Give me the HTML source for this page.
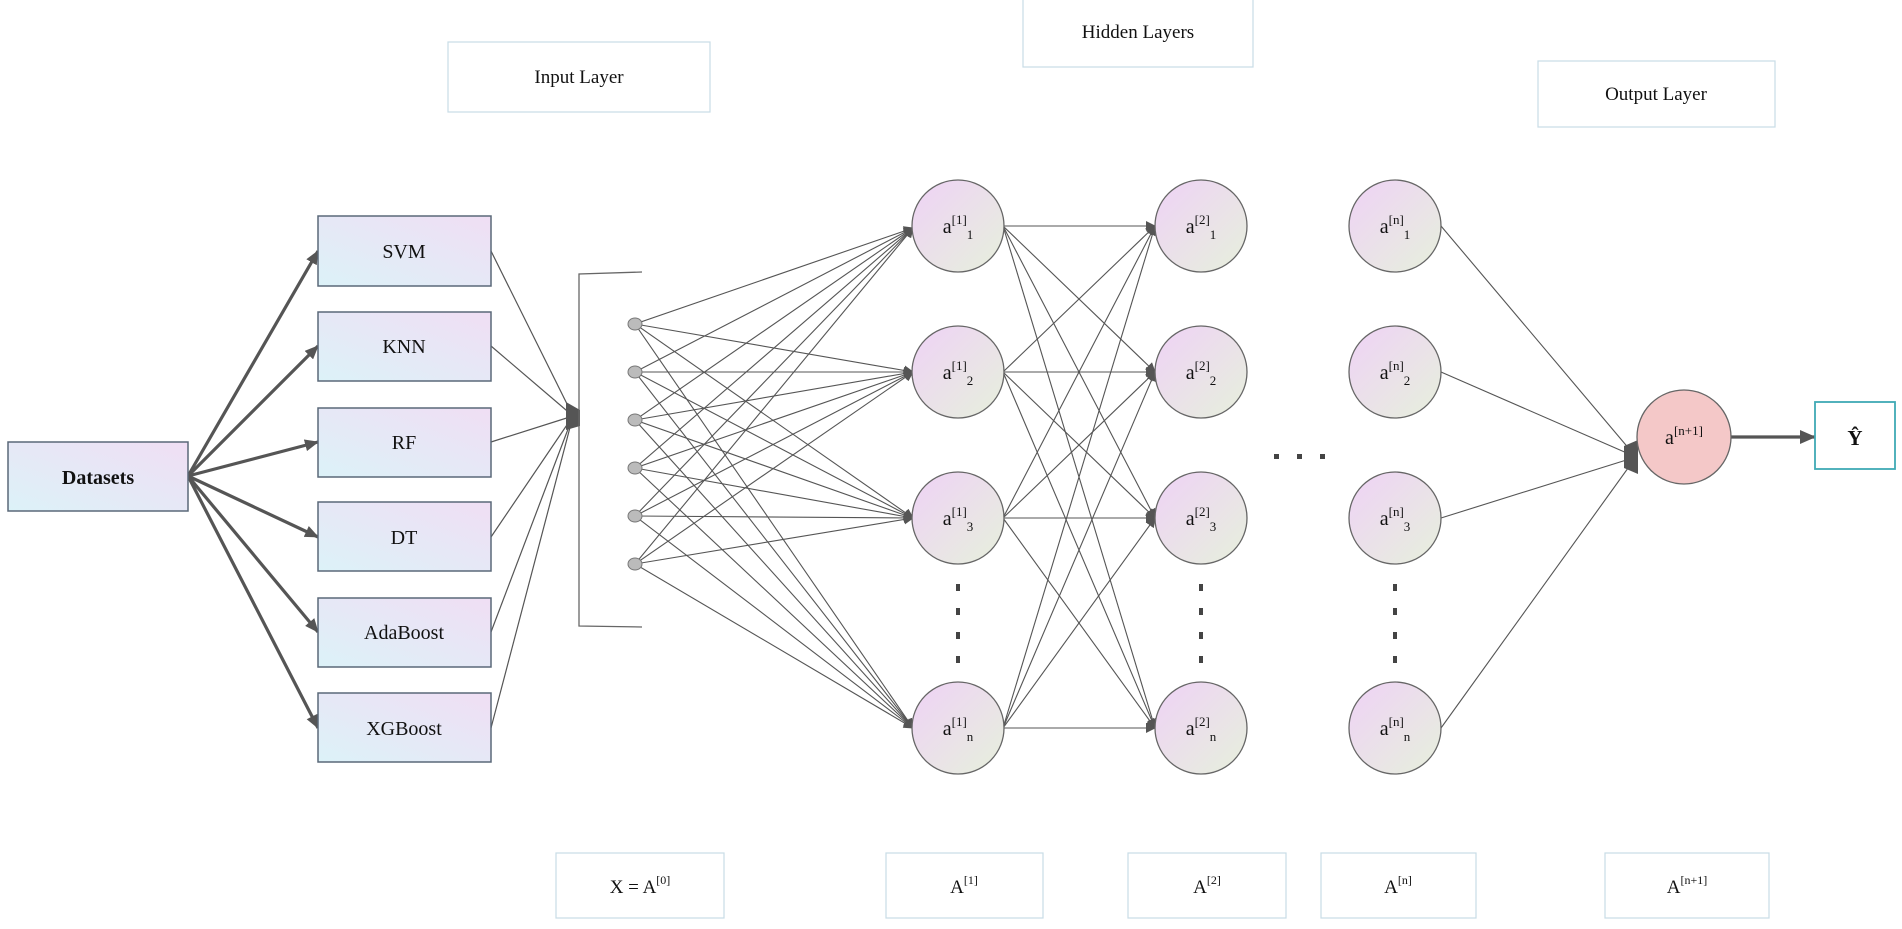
<!DOCTYPE html>
<html><head><meta charset="utf-8"><style>
html,body{margin:0;padding:0;background:#fff;}
svg{display:block;}
text{font-family:"Liberation Serif",serif;fill:#111;}
</style></head><body>
<svg width="1902" height="929" viewBox="0 0 1902 929" xmlns="http://www.w3.org/2000/svg">
<defs>
<linearGradient id="gbox" x1="0" y1="1" x2="1" y2="0">
<stop offset="0" stop-color="#dcf2f8"/><stop offset="1" stop-color="#f0def4"/></linearGradient>
<linearGradient id="gnode" x1="0" y1="0" x2="1" y2="1">
<stop offset="0" stop-color="#efd2f6"/><stop offset="1" stop-color="#e6f0dc"/></linearGradient>
<marker id="ah" markerWidth="10" markerHeight="10" refX="9" refY="5" orient="auto" markerUnits="userSpaceOnUse">
<path d="M0,0 L10,5 L0,10 z" fill="#555"/></marker>
<marker id="ahb" markerWidth="16" markerHeight="14" refX="15" refY="7" orient="auto" markerUnits="userSpaceOnUse">
<path d="M0,0 L16,7 L0,14 z" fill="#555"/></marker>
<marker id="ahs" markerWidth="14" markerHeight="12" refX="13" refY="6" orient="auto" markerUnits="userSpaceOnUse">
<path d="M0,0 L14,6 L0,12 z" fill="#555"/></marker>
</defs>

<!-- header label boxes -->
<g fill="#fff" stroke="#c8dce6" stroke-width="1.2">
<rect x="448" y="42" width="262" height="70"/>
<rect x="1023" y="-2" width="230" height="69"/>
<rect x="1538" y="61" width="237" height="66"/>
<rect x="556" y="853" width="168" height="65"/>
<rect x="886" y="853" width="157" height="65"/>
<rect x="1128" y="853" width="158" height="65"/>
<rect x="1321" y="853" width="155" height="65"/>
<rect x="1605" y="853" width="164" height="65"/>
</g>
<g font-size="19" text-anchor="middle">
<text x="579" y="83">Input Layer</text>
<text x="1138" y="38">Hidden Layers</text>
<text x="1656" y="100">Output Layer</text>
<text x="640" y="893">X = A<tspan font-size="12" dy="-9">[0]</tspan></text>
<text x="964" y="893">A<tspan font-size="12" dy="-9">[1]</tspan></text>
<text x="1207" y="893">A<tspan font-size="12" dy="-9">[2]</tspan></text>
<text x="1398" y="893">A<tspan font-size="12" dy="-9">[n]</tspan></text>
<text x="1687" y="893">A<tspan font-size="12" dy="-9">[n+1]</tspan></text>
</g>

<!-- datasets to models -->
<g stroke="#555" stroke-width="3.2" fill="none" marker-end="url(#ahs)">
<line x1="188" y1="476" x2="318" y2="251"/>
<line x1="188" y1="476" x2="318" y2="346"/>
<line x1="188" y1="476" x2="318" y2="442"/>
<line x1="188" y1="476" x2="318" y2="537"/>
<line x1="188" y1="476" x2="318" y2="632"/>
<line x1="188" y1="476" x2="318" y2="728"/>
</g>
<!-- models to convergence -->
<g stroke="#555" stroke-width="1.2" fill="none">
<line x1="491" y1="251" x2="573" y2="416"/>
<line x1="491" y1="346" x2="573" y2="416"/>
<line x1="491" y1="442" x2="573" y2="416"/>
<line x1="491" y1="537" x2="573" y2="416"/>
<line x1="491" y1="632" x2="573" y2="416"/>
<line x1="491" y1="728" x2="573" y2="416"/>
</g>
<path d="M566,402 L580,410 L580,426 L566,430 z" fill="#555"/>

<rect x="8" y="442" width="180" height="69" fill="url(#gbox)" stroke="#5a6878" stroke-width="1.5"/>
<text x="98" y="484" font-size="20" font-weight="bold" text-anchor="middle">Datasets</text>
<g stroke="#5a6878" stroke-width="1.5" fill="url(#gbox)">
<rect x="318" y="216" width="173" height="70"/>
<rect x="318" y="312" width="173" height="69"/>
<rect x="318" y="408" width="173" height="69"/>
<rect x="318" y="502" width="173" height="69"/>
<rect x="318" y="598" width="173" height="69"/>
<rect x="318" y="693" width="173" height="69"/>
</g>
<g font-size="20" text-anchor="middle">
<text x="404" y="258">SVM</text>
<text x="404" y="353">KNN</text>
<text x="404" y="449">RF</text>
<text x="404" y="544">DT</text>
<text x="404" y="639">AdaBoost</text>
<text x="404" y="735">XGBoost</text>
</g>

<!-- bracket -->
<path d="M642,272 L579,274 L579,626 L642,627" fill="none" stroke="#666" stroke-width="1.3"/>

<!-- dots to layer1 -->
<g stroke="#555" stroke-width="1.1" marker-end="url(#ah)">
<line x1="635" y1="324" x2="913" y2="228"/><line x1="635" y1="324" x2="913" y2="372"/><line x1="635" y1="324" x2="913" y2="518"/><line x1="635" y1="324" x2="913" y2="728"/>
<line x1="635" y1="372" x2="913" y2="228"/><line x1="635" y1="372" x2="913" y2="372"/><line x1="635" y1="372" x2="913" y2="518"/><line x1="635" y1="372" x2="913" y2="728"/>
<line x1="635" y1="420" x2="913" y2="228"/><line x1="635" y1="420" x2="913" y2="372"/><line x1="635" y1="420" x2="913" y2="518"/><line x1="635" y1="420" x2="913" y2="728"/>
<line x1="635" y1="468" x2="913" y2="228"/><line x1="635" y1="468" x2="913" y2="372"/><line x1="635" y1="468" x2="913" y2="518"/><line x1="635" y1="468" x2="913" y2="728"/>
<line x1="635" y1="516" x2="913" y2="228"/><line x1="635" y1="516" x2="913" y2="372"/><line x1="635" y1="516" x2="913" y2="518"/><line x1="635" y1="516" x2="913" y2="728"/>
<line x1="635" y1="564" x2="913" y2="228"/><line x1="635" y1="564" x2="913" y2="372"/><line x1="635" y1="564" x2="913" y2="518"/><line x1="635" y1="564" x2="913" y2="728"/>
</g>
<g fill="#bbb" stroke="#777" stroke-width="1">
<ellipse cx="635" cy="324" rx="7" ry="6"/><ellipse cx="635" cy="372" rx="7" ry="6"/><ellipse cx="635" cy="420" rx="7" ry="6"/>
<ellipse cx="635" cy="468" rx="7" ry="6"/><ellipse cx="635" cy="516" rx="7" ry="6"/><ellipse cx="635" cy="564" rx="7" ry="6"/>
</g>

<!-- layer1 to layer2 -->
<g stroke="#555" stroke-width="1.1" marker-end="url(#ah)">
<line x1="1003" y1="226" x2="1155" y2="226"/><line x1="1003" y1="226" x2="1155" y2="372"/><line x1="1003" y1="226" x2="1155" y2="518"/><line x1="1003" y1="226" x2="1155" y2="728"/>
<line x1="1003" y1="372" x2="1155" y2="226"/><line x1="1003" y1="372" x2="1155" y2="372"/><line x1="1003" y1="372" x2="1155" y2="518"/><line x1="1003" y1="372" x2="1155" y2="728"/>
<line x1="1003" y1="518" x2="1155" y2="226"/><line x1="1003" y1="518" x2="1155" y2="372"/><line x1="1003" y1="518" x2="1155" y2="518"/><line x1="1003" y1="518" x2="1155" y2="728"/>
<line x1="1003" y1="728" x2="1155" y2="226"/><line x1="1003" y1="728" x2="1155" y2="372"/><line x1="1003" y1="728" x2="1155" y2="518"/><line x1="1003" y1="728" x2="1155" y2="728"/>
</g>
<!-- layer n to output -->
<g stroke="#555" stroke-width="1.1">
<line x1="1441" y1="226" x2="1636" y2="457"/>
<line x1="1441" y1="372" x2="1636" y2="457"/>
<line x1="1441" y1="518" x2="1636" y2="457"/>
<line x1="1441" y1="728" x2="1636" y2="457"/>
</g>
<path d="M1624,446 L1638,440 L1638,474 L1624,468 z" fill="#555"/>
<line x1="1731" y1="437" x2="1815" y2="437" stroke="#555" stroke-width="3.2" marker-end="url(#ahb)"/>

<!-- nodes -->
<g fill="url(#gnode)" stroke="#666" stroke-width="1.3">
<circle cx="958" cy="226" r="46"/><circle cx="958" cy="372" r="46"/><circle cx="958" cy="518" r="46"/><circle cx="958" cy="728" r="46"/>
<circle cx="1201" cy="226" r="46"/><circle cx="1201" cy="372" r="46"/><circle cx="1201" cy="518" r="46"/><circle cx="1201" cy="728" r="46"/>
<circle cx="1395" cy="226" r="46"/><circle cx="1395" cy="372" r="46"/><circle cx="1395" cy="518" r="46"/><circle cx="1395" cy="728" r="46"/>
</g>
<circle cx="1684" cy="437" r="47" fill="#f4c8c8" stroke="#666" stroke-width="1.3"/>
<rect x="1815" y="402" width="80" height="67" fill="#fff" stroke="#3fa9b5" stroke-width="1.8"/>
<text x="1855" y="445" font-size="21" font-weight="bold" text-anchor="middle">Ŷ</text>

<g font-size="20" text-anchor="middle">
<text x="958" y="233">a<tspan font-size="13" dy="-9">[1]</tspan><tspan font-size="13" dy="15">1</tspan></text>
<text x="958" y="379">a<tspan font-size="13" dy="-9">[1]</tspan><tspan font-size="13" dy="15">2</tspan></text>
<text x="958" y="525">a<tspan font-size="13" dy="-9">[1]</tspan><tspan font-size="13" dy="15">3</tspan></text>
<text x="958" y="735">a<tspan font-size="13" dy="-9">[1]</tspan><tspan font-size="13" dy="15">n</tspan></text>
<text x="1201" y="233">a<tspan font-size="13" dy="-9">[2]</tspan><tspan font-size="13" dy="15">1</tspan></text>
<text x="1201" y="379">a<tspan font-size="13" dy="-9">[2]</tspan><tspan font-size="13" dy="15">2</tspan></text>
<text x="1201" y="525">a<tspan font-size="13" dy="-9">[2]</tspan><tspan font-size="13" dy="15">3</tspan></text>
<text x="1201" y="735">a<tspan font-size="13" dy="-9">[2]</tspan><tspan font-size="13" dy="15">n</tspan></text>
<text x="1395" y="233">a<tspan font-size="13" dy="-9">[n]</tspan><tspan font-size="13" dy="15">1</tspan></text>
<text x="1395" y="379">a<tspan font-size="13" dy="-9">[n]</tspan><tspan font-size="13" dy="15">2</tspan></text>
<text x="1395" y="525">a<tspan font-size="13" dy="-9">[n]</tspan><tspan font-size="13" dy="15">3</tspan></text>
<text x="1395" y="735">a<tspan font-size="13" dy="-9">[n]</tspan><tspan font-size="13" dy="15">n</tspan></text>
<text x="1684" y="444">a<tspan font-size="13" dy="-9">[n+1]</tspan></text>
</g>

<!-- vertical dots -->
<g fill="#444">
<rect x="956" y="584" width="4" height="7"/><rect x="956" y="608" width="4" height="7"/><rect x="956" y="632" width="4" height="7"/><rect x="956" y="656" width="4" height="7"/>
<rect x="1199" y="584" width="4" height="7"/><rect x="1199" y="608" width="4" height="7"/><rect x="1199" y="632" width="4" height="7"/><rect x="1199" y="656" width="4" height="7"/>
<rect x="1393" y="584" width="4" height="7"/><rect x="1393" y="608" width="4" height="7"/><rect x="1393" y="632" width="4" height="7"/><rect x="1393" y="656" width="4" height="7"/>
<rect x="1274" y="454" width="5" height="5"/><rect x="1297" y="454" width="5" height="5"/><rect x="1320" y="454" width="5" height="5"/>
</g>
</svg>
</body></html>
